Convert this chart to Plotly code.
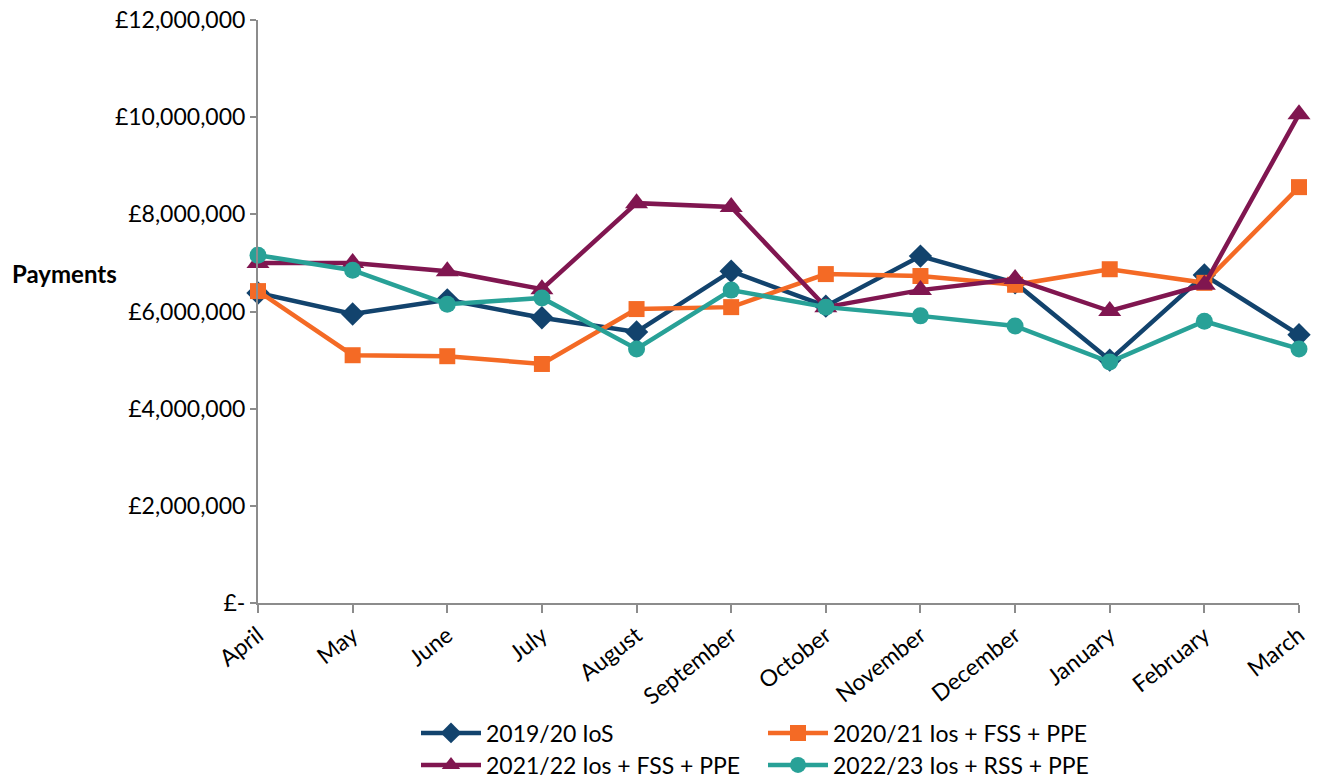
import plotly.graph_objects as go

# Data
months = ['April', 'May', 'June', 'July', 'August', 'September', 'October',
          'November', 'December', 'January', 'February', 'March']

ios_1920 = [6380000, 5950000, 6240000, 5870000, 5580000, 6830000, 6110000,
            7140000, 6590000, 5000000, 6750000, 5520000]
fss_2021 = [6420000, 5100000, 5080000, 4920000, 6050000, 6090000, 6770000,
            6730000, 6550000, 6870000, 6590000, 8560000]
fss_2122 = [7000000, 7000000, 6830000, 6460000, 8230000, 8150000, 6090000,
            6440000, 6670000, 6010000, 6550000, 10060000]
rss_2223 = [7160000, 6850000, 6150000, 6280000, 5230000, 6440000, 6090000,
            5910000, 5700000, 4960000, 5800000, 5230000]

y_ticks = [0, 2000000, 4000000, 6000000, 8000000, 10000000, 12000000]
y_tick_text = ['£-', '£2,000,000', '£4,000,000', '£6,000,000',
               '£8,000,000', '£10,000,000', '£12,000,000']

# name, values, colour, marker, marker size, legend row
series = [
    ('2019/20 IoS', ios_1920, '#12436D', 'diamond', 18, 'legend'),
    ('2020/21 Ios + FSS + PPE', fss_2021, '#F46A25', 'square', 16, 'legend'),
    ('2021/22 Ios + FSS + PPE', fss_2122, '#801650', 'triangle-up', 20, 'legend2'),
    ('2022/23 Ios + RSS + PPE', rss_2223, '#28A197', 'circle', 17, 'legend2'),
]

FONT = 'Lato'
AXIS = '#8C8C8C'

fig = go.Figure()
for name, vals, color, symbol, size, leg in series:
    fig.add_trace(go.Scatter(
        x=months, y=vals, name=name, mode='lines+markers',
        line=dict(color=color, width=4.5),
        marker=dict(symbol=symbol, size=size, color=color),
        cliponaxis=False, legend=leg,
    ))

# two legend rows, two entries each
leg_style = dict(
    orientation='h', xref='container', x=416 / 1320, xanchor='left',
    yref='container', yanchor='middle',
    entrywidth=272, entrywidthmode='pixels', itemwidth=60,
    font=dict(family=FONT, size=23), tracegroupgap=0,
)

fig.update_layout(
    width=1320, height=783,
    paper_bgcolor='white', plot_bgcolor='white',
    margin=dict(l=258, r=21, t=20, b=180),
    font=dict(family=FONT, size=23, color='#000000'),
    showlegend=True,
    legend=dict(leg_style, y=1 - 733 / 783),
    legend2=dict(leg_style, y=1 - 765 / 783),
    annotations=[dict(
        text='<b>Payments</b>', xref='paper', yref='paper',
        x=-248 / 1041, y=(603 - 273) / 583, xanchor='left', yanchor='middle',
        showarrow=False, font=dict(family=FONT, size=24),
    )],
)

fig.update_xaxes(
    type='category', range=[0, 11], automargin=False,
    showline=True, linecolor=AXIS, linewidth=2,
    ticks='outside', ticklen=8, tickcolor=AXIS, tickwidth=1.5,
    tickangle=-38, showgrid=False, zeroline=False,
    tickfont=dict(family=FONT, size=23),
)
fig.update_yaxes(
    range=[0, 12000000], tickvals=y_ticks, ticktext=y_tick_text,
    automargin=False,
    showline=True, linecolor=AXIS, linewidth=2,
    ticks='outside', ticklen=6, tickcolor=AXIS, tickwidth=1.5,
    showgrid=False, zeroline=False,
    tickfont=dict(family=FONT, size=23),
)

fig.write_html('out.html', config={'displayModeBar': False},
               post_script="document.body.style.margin='0';")
